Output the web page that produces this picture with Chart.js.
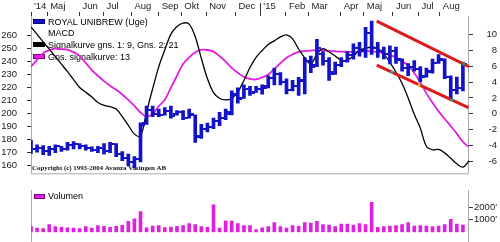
<!DOCTYPE html>
<html><head><meta charset="utf-8">
<script src="https://cdn.jsdelivr.net/npm/chart.js@4.4.1/dist/chart.umd.min.js"></script>
<style>
html,body{margin:0;padding:0;background:#fff;}
#wrap{position:relative;width:500px;height:242px;overflow:hidden;background:#fff;}
#c1{position:absolute;left:0;top:0;}
#c2{position:absolute;left:0;top:190px;}
</style></head><body>
<div id="wrap"><canvas id="c1" width="500" height="190"></canvas><canvas id="c2" width="500" height="52"></canvas></div>
<script>
// ---- DATA (weekly, index 0 = mid April 2014) ----
const priceHigh = [179.5,176,175.5,175,176,175,178,178.5,177,176, 174.5,175,177,178,177,171,169,167,193,205.8,
  205.8,203.5,204.6,205.8,202.3,202.3,203.5,199,191.8,192.8, 196.5,201,203.5,217.4,219.7,222,221,221,222,229,
  234.9,231.4,226.7,225.5,227.9,243,244,257,247.6,243, 239.5,243,247.6,253.4,254.6,266.2,270.9,254.6,251,252,
  251,242,238.4,240.7,236,234.9,241.8,245.3,242,229, 228,239.5];
const priceLow = [169.5,170.5,168.5,168,170,171,172,173,173,172, 171,170,169,170,167,164,160,158.5,163,191.8,
  197.6,197.6,198.8,196.5,198.8,195.3,196.5,178,181,186, 188.4,190.7,195.3,199,208,211.6,214,216.3,214.9,219.7,
  222,222,215,217.4,214,215,231.4,236,237.2,225.5, 230,236,239.5,241.8,244.1,243,245.3,243,242,238,
  238.4,232.5,229,232.5,224.4,227.9,231,238.4,226.7,210.5, 215,217.4];
const priceOpen = [177,173,174,171,173,175,173,176,177,175, 174,172,174,171,177,169,166,163,165,193,
  203,200,199,202,199.5,201,197,199,183,188, 190,194,197,201,214,212,219,216.5,219,221,
  227,230,224,218,221,225,240,237,246,240, 232,237,240,245,250,248,262,250,248,246,
  248,241,235,236,234,229,233,239,241,228, 218,220];
const priceClose = [173,174,171,173,175,173,176,177,175,174, 172,174,171,177,169,166,163,165,191,203,
  200,199,202,198,201,197,200,182,188,190, 194,197,200,215,211,219,216,219,220,227,
  230,224,218,221,226,240,236,250,240,230, 237,240,245,250,248,262,250,248,246,248,
  242,235,236,234,228,232,239,242,228,218, 220,238];
const macd = [10.99,10.05,9.10,8.17,7.23,6.28,5.33,4.33,3.33,2.74, 2.12,1.42,1.06,0.90,0.60,-0.36,-1.45,-2.57,-2.82,0.25,
  3.18,5.94,8.09,10.08,11.05,11.48,11.35,9.74,7.01,4.45, 2.68,1.96,1.75,1.94,2.76,4.21,5.85,7.13,8.01,8.77,
  9.23,9.72,9.98,9.47,8.18,7.08,6.32,7.53,8.23,7.82, 7.32,6.74,6.77,7.32,8.02,8.29,8.42,8.27,7.54,6.51,
  5.26,3.83,1.99,-0.05,-1.82,-4.10,-4.55,-4.51,-4.94,-5.63, -6.32,-6.75,-5.93];
const signal = [5.96,6.82,7.68,8.04,8.26,8.18,8.11,7.80,7.33,6.43, 5.54,4.81,4.14,3.56,3.04,2.45,1.75,1.01,0.16,-0.36,
  -0.01,0.96,1.78,3.30,4.81,6.31,7.13,7.78,8.09,8.07, 7.87,7.28,6.61,5.80,5.19,4.67,4.41,4.35,4.60,4.98,
  5.68,6.39,7.09,7.51,7.84,7.93,8.00,8.06,8.04,7.97, 7.91,7.86,7.84,7.80,7.86,7.92,7.93,7.80,7.66,7.40,
  7.15,6.64,6.12,5.16,3.98,2.58,1.40,0.31,-0.63,-1.55, -2.50,-3.56,-4.20];
const volume = [480,330,290,620,450,390,360,340,290,450, 330,530,480,390,480,550,880,1090,1660,360,
  500,530,380,410,470,530,700,620,450,390, 2210,330,930,910,700,530,
  530,220,360,450,790,450,330,530,480,790, 740,880,620,570,450,650,650,570,700,620,
  2400,390,450,500,530,620,790,500,530,500, 450,500,620,1050,650,570];
const trendUpperX = [56.83, 72.0];
const trendUpperY = [270.9, 236.0];
const trendLowerX = [56.83, 71.9];
const trendLowerY = [237.2, 204.6];
const touchX = [59.3, 63.8, 69.2, 71.1];
const touchY = [231.9, 222.0, 210.5, 238.1];
const touchColors = ['#3aa0a0','#e0c040','#30a070','#20a040'];
const monthTickPos = [2.66,7.98,11.9,16.5,21,24.7,28.8,33.6,37.7,41.9,45.6,50.9,54.7,59.5,63.7,67.2];
const monthTickLabels = ['Maj','Jun','Jul','Aug','Sep','Okt','Nov','Dec',"'15",'Feb','Mar','Apr','Maj','Jun','Jul','Aug'];
const firstLabel = "'14";
const yearTickPos = 37.7;
const priceTicks = [160,170,180,190,200,210,220,230,240,250,260];
const macdTicks = [-6,-4,-2,0,2,4,6,8,10];
const volTicks = [1000,2000];
const legendLabels = ['ROYAL UNIBREW (Uge)','MACD','Signalkurve gns. 1: 9, Gns. 2: 21','Gns. signalkurve: 13'];
const volumeLabel = 'Volumen';
const copyrightText = 'Copyright (c) 1993-2004 Avanza Vikingen AB';

// ---- STYLE ----
const FONT = '"Liberation Sans", Arial, sans-serif';
const BLUE = '#1212c8';
const MAG = '#e020e0';
const RED = '#dd1a1a';
const TXT = '#222';
const FRAME = '#a8a8a8';

function tickImg(side){
  const c = document.createElement('canvas');
  c.width = 9; c.height = 2;
  const g = c.getContext('2d');
  g.fillStyle = BLUE;
  if (side === 'open') g.fillRect(0,0,3,2); else g.fillRect(6,0,3,2);
  return c;
}

const topDeco = {
  id:'topDeco',
  beforeDatasetsDraw(chart){
    const {ctx, chartArea:a} = chart;
    ctx.save();
    ctx.strokeStyle = FRAME; ctx.lineWidth = 1;
    ctx.beginPath();
    ctx.moveTo(a.left+0.5, a.top); ctx.lineTo(a.left+0.5, a.bottom-0.5);
    ctx.lineTo(a.right-0.5, a.bottom-0.5); ctx.lineTo(a.right-0.5, a.top);
    ctx.stroke();
    const px = Math.round(chart.scales.x.getPixelForValue(yearTickPos)) + 0.5;
    ctx.strokeStyle = '#333';
    ctx.beginPath(); ctx.moveTo(px, 3); ctx.lineTo(px, a.top); ctx.stroke();
    // copyright
    ctx.fillStyle = '#111';
    ctx.font = 'bold 7px "Liberation Serif", "Times New Roman", serif';
    ctx.textBaseline = 'middle'; ctx.textAlign = 'left';
    ctx.fillText(copyrightText, a.left+1, a.bottom-6, 134);
    // legend
    const rows = [22.5, 34, 45.5, 57.5];
    ctx.font = '9px ' + FONT;
    ctx.fillStyle = '#000';
    legendLabels.forEach((t,i)=>{ ctx.fillText(t, a.left+17, rows[i]); });
    const box = (y, fill, stroke)=>{
      ctx.fillStyle = fill; ctx.fillRect(a.left+2, y-2.5, 12, 5);
      ctx.strokeStyle = stroke; ctx.lineWidth = 1; ctx.strokeRect(a.left+2.5, y-2, 11, 4);
    };
    box(rows[0]-1, BLUE, '#000070');
    box(rows[2]-1, '#000', '#000');
    box(rows[3]-1, MAG, '#800080');
    ctx.restore();
  }
};

const volDeco = {
  id:'volDeco',
  beforeDatasetsDraw(chart){
    const {ctx, chartArea:a} = chart;
    ctx.save();
    ctx.strokeStyle = FRAME; ctx.lineWidth = 1;
    ctx.beginPath();
    ctx.moveTo(a.left+0.5, 0); ctx.lineTo(a.left+0.5, chart.height);
    ctx.moveTo(a.right-0.5, 0); ctx.lineTo(a.right-0.5, chart.height);
    ctx.stroke();
    ctx.fillStyle = MAG; ctx.fillRect(a.left+3, 4, 11, 5);
    ctx.strokeStyle = '#800080'; ctx.strokeRect(a.left+3.5, 4.5, 10, 4);
    ctx.fillStyle = '#000'; ctx.font = '9px ' + FONT;
    ctx.textBaseline = 'middle'; ctx.textAlign = 'left';
    ctx.fillText(volumeLabel, a.left+17, 7);
    ctx.restore();
  }
};

const tickFont = {family: FONT, size: 9.5};

new Chart(document.getElementById('c1'), {
  type: 'bar',
  data: { datasets: [
    { type:'scatter', order:0, xAxisID:'x', yAxisID:'yP',
      data: touchX.map((x,i)=>({x, y: touchY[i]})),
      pointRadius:1.6, pointBackgroundColor: touchColors, pointBorderWidth:0 },
    { type:'line', order:1, xAxisID:'x', yAxisID:'yP',
      data: trendUpperX.map((x,i)=>({x, y: trendUpperY[i]})),
      borderColor: RED, borderWidth: 3, pointRadius:0, tension:0 },
    { type:'line', order:1, xAxisID:'x', yAxisID:'yP',
      data: trendLowerX.map((x,i)=>({x, y: trendLowerY[i]})),
      borderColor: RED, borderWidth: 3, pointRadius:0, tension:0 },
    { type:'scatter', order:2, xAxisID:'x', yAxisID:'yP',
      data: priceOpen.map((v,i)=>({x:i, y:v})), pointStyle: tickImg('open'), pointRadius:3 },
    { type:'scatter', order:2, xAxisID:'x', yAxisID:'yP',
      data: priceClose.map((v,i)=>({x:i, y:v})), pointStyle: tickImg('close'), pointRadius:3 },
    { type:'bar', order:3, xAxisID:'x', yAxisID:'yP',
      data: priceHigh.map((h,i)=>({x:i, y:[priceLow[i], h]})),
      backgroundColor: BLUE, barThickness: 3, borderWidth:0, borderSkipped:false },
    { type:'line', order:4, xAxisID:'x', yAxisID:'yM',
      data: macd.map((v,i)=>({x:i, y:v})),
      borderColor:'#000', borderWidth:1.3, pointRadius:0, tension:0.35 },
    { type:'line', order:5, xAxisID:'x', yAxisID:'yM',
      data: signal.map((v,i)=>({x:i, y:v})),
      borderColor: MAG, borderWidth:1.8, pointRadius:0, tension:0.35 }
  ]},
  options: {
    responsive:false, animation:false, devicePixelRatio:1,
    layout:{ padding:{left:0, right:3, top:0, bottom:0} },
    plugins:{ legend:{display:false}, tooltip:{enabled:false} },
    scales:{
      x:{ type:'linear', position:'top', min:0, max:72, offset:false,
        afterFit(s){ s.height = 16; },
        afterBuildTicks(s){ s.ticks = [{value:0}].concat(monthTickPos.map(v=>({value:v}))); },
        ticks:{ autoSkip:false, maxRotation:0, minRotation:0, align:'start', labelOffset:3, padding:0,
          color:TXT, font:tickFont,
          callback(v, i){ return i === 0 ? firstLabel : monthTickLabels[i-1]; } },
        grid:{ drawOnChartArea:false, drawTicks:true, tickLength:4, color:'#333', offset:false },
        border:{ display:false } },
      yP:{ type:'linear', position:'left', min:153.5, max:274.8,
        afterFit(s){ s.width = 31; },
        afterBuildTicks(s){ s.ticks = priceTicks.map(v=>({value:v})); },
        ticks:{ padding:10, color:TXT, font:tickFont },
        grid:{ drawOnChartArea:false, tickLength:4, color:'#333' },
        border:{ display:false } },
      yM:{ type:'linear', position:'right', min:-7.65, max:12.37,
        afterFit(s){ s.width = 28; },
        afterBuildTicks(s){ s.ticks = macdTicks.map(v=>({value:v})); },
        ticks:{ crossAlign:'far', padding:4, color:TXT, font:tickFont },
        grid:{ drawOnChartArea:false, tickLength:4, color:'#333' },
        border:{ display:false } }
    }
  },
  plugins:[topDeco]
});

new Chart(document.getElementById('c2'), {
  type:'bar',
  data:{ datasets:[{ type:'bar', xAxisID:'x', yAxisID:'yV',
    data: volume.map((v,i)=>({x:i, y:v})),
    backgroundColor: MAG, barThickness:3, borderWidth:0 }] },
  options:{
    responsive:false, animation:false, devicePixelRatio:1,
    layout:{ padding:{left:31, right:3, top:0, bottom:1.5} },
    plugins:{ legend:{display:false}, tooltip:{enabled:false} },
    scales:{
      x:{ type:'linear', display:false, min:0, max:72, offset:false },
      yV:{ type:'linear', position:'right', min:0, max:2617,
        afterFit(s){ s.width = 28; },
        afterBuildTicks(s){ s.ticks = volTicks.map(v=>({value:v})); },
        ticks:{ crossAlign:'far', padding:4, color:TXT, font:tickFont, callback:(v)=> v + "'" },
        grid:{ drawOnChartArea:false, tickLength:4, color:'#333' },
        border:{ display:false } }
    }
  },
  plugins:[volDeco]
});
</script>
</body></html>
